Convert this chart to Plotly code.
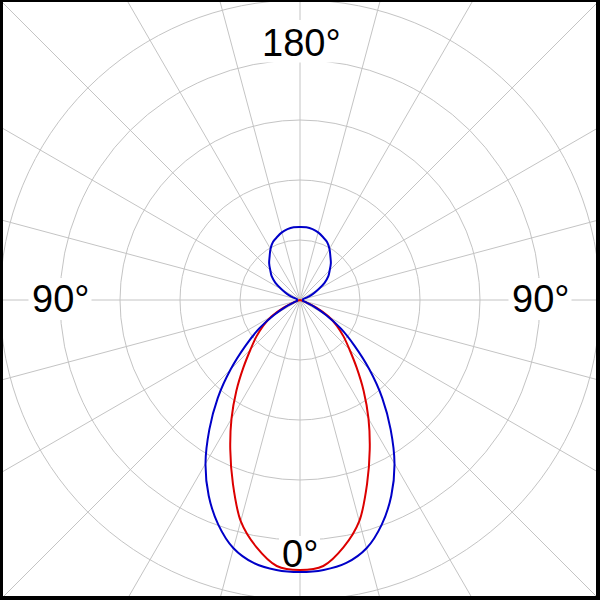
import plotly.graph_objects as go
import math

# ---- data (one half, pattern is symmetric) ----
angles = list(range(0, 181, 5))  # degrees, 0 at bottom
blue_r = [272, 271, 267, 257, 239, 216, 189, 158, 128, 98, 71, 50, 30, 15, 5,
          3, 3, 3, 3, 3, 3, 3, 7, 14, 21, 30, 37, 42, 48, 53, 59, 64, 67, 70,
          72, 73, 73]
red_r = [270, 267, 251, 229, 196, 165, 137, 111, 88, 70, 57, 45, 33, 18, 6, 1,
         0, 0, 0, 0, 0, 0, 0, 0, 0, 0, 0, 0, 0, 0, 0, 0, 0, 0, 0, 0, 0]

ring_values = [60, 120, 180, 240, 300]
spoke_step = 15
R_MAX = 300

label_texts = ["180°", "90°", "90°", "0°"]


def full_circle(vals):
    th = angles + [360 - a for a in angles[-2::-1]]
    rr = vals + vals[-2::-1]
    return th, rr


W = H = 600
GRID = "#c4c4c4"

fig = go.Figure()
for vals, col in ((red_r, "rgb(220,0,0)"), (blue_r, "rgb(0,0,200)")):
    th, rr = full_circle(vals)
    fig.add_trace(go.Scatterpolar(
        r=rr, theta=th, mode="lines",
        line=dict(color=col, width=2, shape="spline", smoothing=0.9),
        showlegend=False, hoverinfo="skip"))

shapes = []
# grid rings (paper coords; polar fills the whole 600x600 paper)
for rv in ring_values:
    f = rv / R_MAX * 0.5
    shapes.append(dict(type="circle", xref="paper", yref="paper",
                       x0=0.5 - f, x1=0.5 + f, y0=0.5 - f, y1=0.5 + f,
                       line=dict(color=GRID, width=1), layer="below"))
# spokes, extending to the frame
for a in range(0, 360, spoke_step):
    ang = math.radians(a)
    shapes.append(dict(type="line", xref="paper", yref="paper",
                       x0=0.5, y0=0.5,
                       x1=0.5 + 0.8 * math.cos(ang), y1=0.5 + 0.8 * math.sin(ang),
                       line=dict(color=GRID, width=1), layer="below"))

# white backgrounds behind labels (pixel boxes -> paper)
def px_rect(x0, y0, x1, y1):
    return dict(type="rect", xref="paper", yref="paper",
                x0=x0 / W, x1=x1 / W, y0=1 - y1 / H, y1=1 - y0 / H,
                fillcolor="white", line=dict(width=0), layer="below")

label_boxes = [(257, 20, 343, 62.5), (28.5, 278, 91.5, 320),
               (508.5, 278, 571.5, 320), (279, 536, 320, 571)]
for b in label_boxes:
    shapes.append(px_rect(*b))

# outer frame
shapes.append(dict(type="rect", xref="paper", yref="paper",
                   x0=1 / W, x1=598 / W, y0=2 / H, y1=1,
                   line=dict(color="black", width=4), layer="above"))

# label positions in pixels
label_pos = [(301, 43), (60, 299), (540, 299), (300, 554)]
annotations = []
for t, (x, y) in zip(label_texts, label_pos):
    annotations.append(dict(text=t, x=x / W, y=1 - y / H, xref="paper", yref="paper",
                            xanchor="center", yanchor="middle", showarrow=False,
                            font=dict(family="Liberation Sans, Arial", size=38,
                                      color="black")))

fig.update_layout(
    width=W, height=H,
    margin=dict(l=0, r=0, t=0, b=0),
    paper_bgcolor="white",
    polar=dict(
        domain=dict(x=[0, 1], y=[0, 1]),
        bgcolor="rgba(0,0,0,0)",
        radialaxis=dict(range=[0, R_MAX], visible=False),
        angularaxis=dict(rotation=270, direction="clockwise",
                         showgrid=False, showline=False, showticklabels=False,
                         ticks=""),
    ),
    shapes=shapes,
    annotations=annotations,
)

fig.write_html("out.html",
               config={"displayModeBar": False},
               post_script="document.body.style.margin='0';"
                           "document.body.style.overflow='hidden';")
